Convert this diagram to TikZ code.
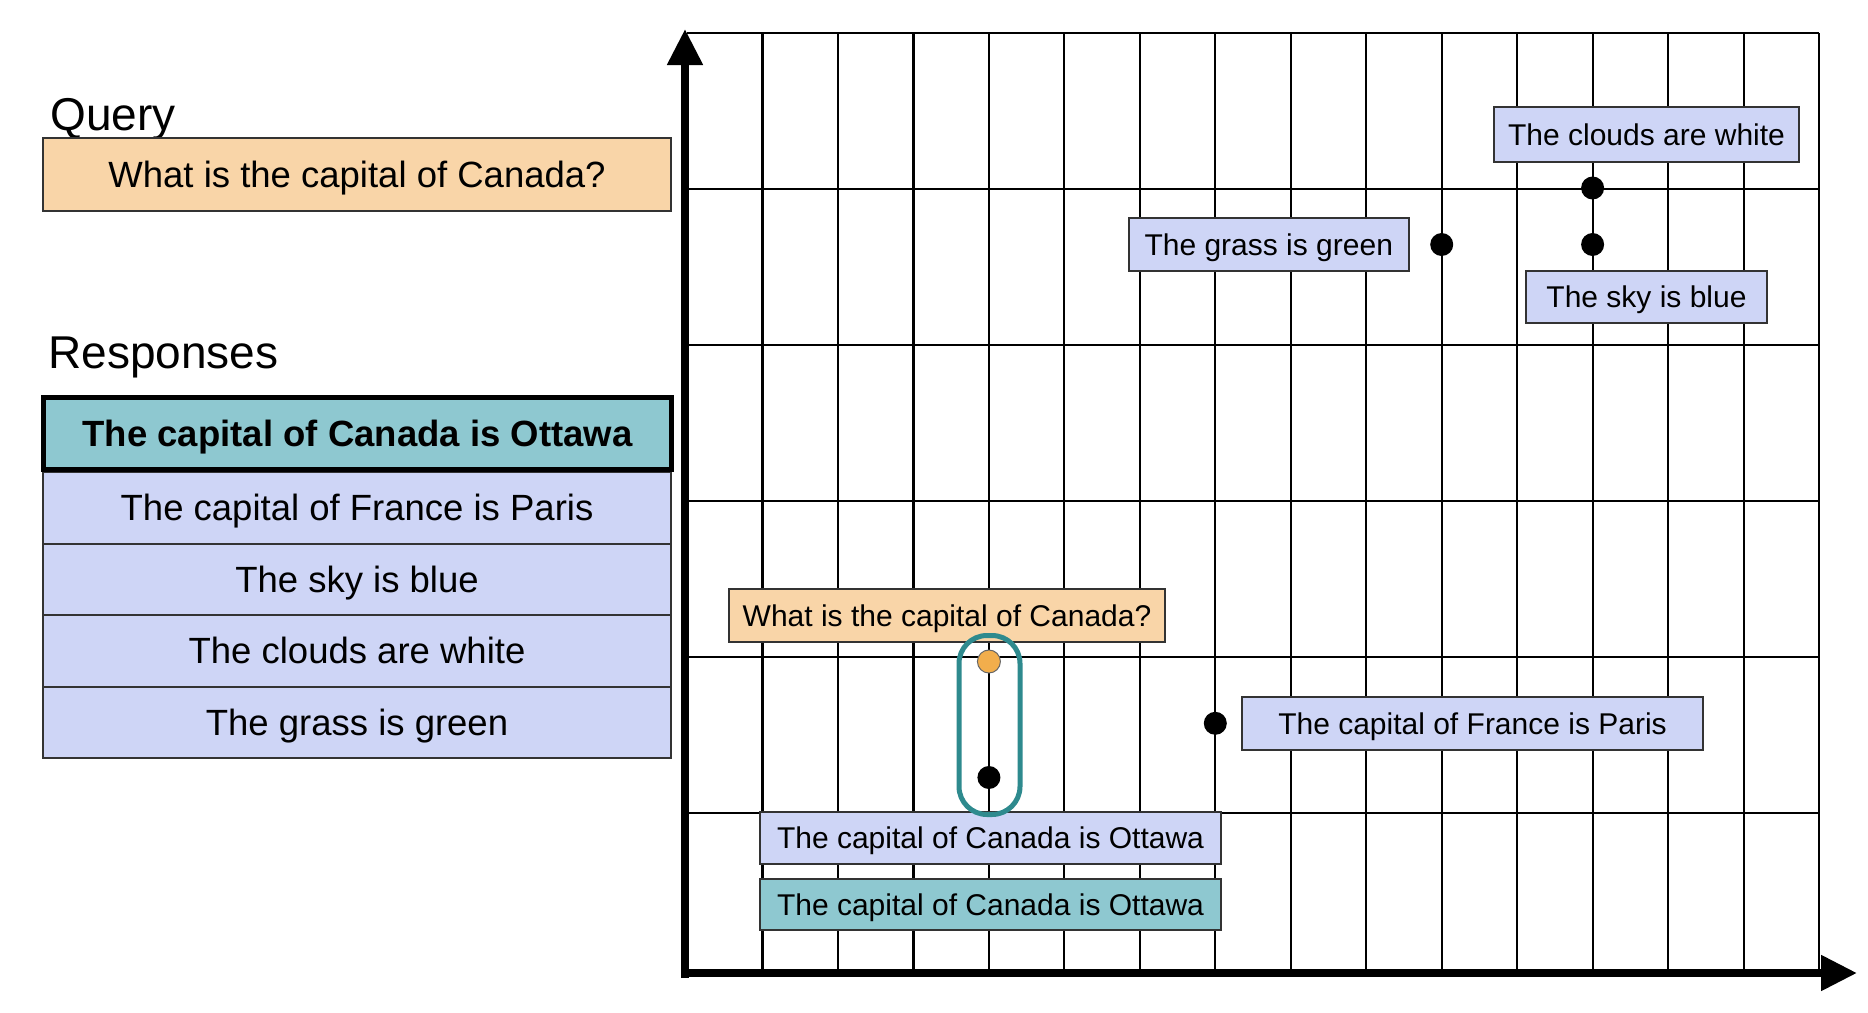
\documentclass[tikz,border=0pt]{standalone}
\usepackage{fontspec}
\setmainfont{Liberation Sans}
\usetikzlibrary{arrows.meta}
\definecolor{peach}{HTML}{F9D5A8}
\definecolor{lav}{HTML}{CED5F6}
\definecolor{tealfill}{HTML}{8EC8D0}
\definecolor{tealdark}{HTML}{2E8A8E}
\definecolor{dotorange}{HTML}{F2AE4C}
\definecolor{boxline}{HTML}{333333}
\begin{document}
\begin{tikzpicture}[x=0.5pt,y=-0.5pt,
  panelbox/.style={draw=boxline, line width=1pt, inner sep=0pt, minimum width=314pt, minimum height=35.75pt, text height=13.1pt, text depth=0pt, font=\fontsize{18.25}{22}\selectfont},
  chartbox/.style={draw=boxline, line width=1pt, inner sep=0pt, fill=lav, text height=10.8pt, text depth=0pt, font=\fontsize{15}{18}\selectfont},
  heading/.style={inner sep=0pt, anchor=base west, font=\fontsize{23}{27}\selectfont},
  pt/.style={circle, fill=black, inner sep=0pt, minimum size=11.5pt},
  gridline/.style={line width=1.1pt},
  axisline/.style={line width=4pt, -{Triangle[length=18pt,width=17pt]}},
]
\useasboundingbox[fill=white] (0,0) rectangle (1868,1012);

% ---------- left panel ----------
\node[heading] (qlabel) at (50,130) {Query};
\node[panelbox, fill=peach, minimum height=36.5pt] (qbox) at (357,174.5) {What is the capital of Canada?};
\node[heading] (rlabel) at (48,368) {Responses};
\node[panelbox, fill=lav] (r2) at (357,507.75) {The capital of France is Paris};
\node[panelbox, fill=lav] (r3) at (357,579.25) {The sky is blue};
\node[panelbox, fill=lav] (r4) at (357,650.75) {The clouds are white};
\node[panelbox, fill=lav] (r5) at (357,722.25) {The grass is green};
\node[panelbox, fill=tealfill, draw=black, line width=2.4pt, minimum height=36pt, font=\fontsize{18.25}{22}\selectfont\bfseries] (r1) at (357.5,433.5) {The capital of Canada is Ottawa};

% ---------- grid ----------
\foreach \i in {1,...,15} \draw[gridline] ({687+75.47*\i},33) -- ({687+75.47*\i},969);
\foreach \j in {0,...,5} \draw[gridline] (687,{33+156*\j}) -- (1819,{33+156*\j});

% ---------- chart labels ----------
\node[chartbox, minimum width=152.5pt, minimum height=27.25pt] (lclouds) at (1646.5,134.25) {The clouds are white};
\node[chartbox, minimum width=120.5pt, minimum height=26pt] (lsky) at (1646.5,297) {The sky is blue};
\node[chartbox, minimum width=140.25pt, minimum height=26.5pt] (lgrass) at (1268.75,244.5) {The grass is green};
\node[chartbox, fill=peach, minimum width=218pt, minimum height=26.75pt] (lquery) at (947,615.25) {What is the capital of Canada?};
\node[chartbox, minimum width=230.5pt, minimum height=26.5pt] (lfrance) at (1472.5,723.5) {The capital of France is Paris};
\node[chartbox, minimum width=230.5pt, minimum height=26.25pt] (lottawa) at (990.5,837.75) {The capital of Canada is Ottawa};
\node[chartbox, fill=tealfill, minimum width=230.5pt, minimum height=25.35pt] (lottawa2) at (990.5,904.6) {The capital of Canada is Ottawa};

% ---------- selection ----------
\node[draw=tealdark, line width=2.5pt, rounded corners=14pt, minimum width=30.5pt, minimum height=89.5pt, inner sep=0pt] (sel) at (989.5,725) {};

% ---------- points ----------
\node[pt] (pclouds) at (1592.6,188) {};
\node[pt] (psky) at (1592.6,244.5) {};
\node[pt] (pgrass) at (1441.7,244.5) {};
\node[pt] (pfrance) at (1215.3,723.3) {};
\node[pt] (pottawa) at (988.9,777.5) {};
\node[pt, fill=dotorange, draw=black!60, line width=0.5pt] (pquery) at (988.9,661.5) {};

% ---------- axes ----------
\coordinate (ybot) at (685,978);
\coordinate (ytop) at (685,29);
\coordinate (xleft) at (681,973);
\coordinate (xright) at (1857,973);
\draw[axisline] (ybot) -- (ytop);
\draw[axisline] (xleft) -- (xright);
\end{tikzpicture}
\end{document}
